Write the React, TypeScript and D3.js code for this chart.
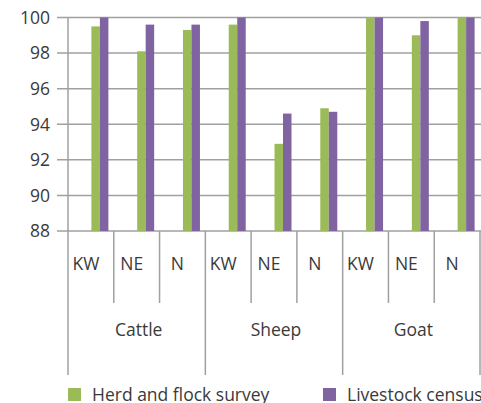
import React from "react";
import * as d3 from "d3";

const groups = ["Cattle", "Sheep", "Goat"];
const regions = ["KW", "NE", "N"];
const seriesNames = ["Herd and flock survey", "Livestock census"];
const herdSurvey = [99.5, 98.1, 99.3, 99.6, 92.9, 94.9, 100, 99.0, 100];
const livestockCensus = [100, 99.6, 99.6, 100, 94.6, 94.7, 100, 99.8, 100];
const yTicks = [88, 90, 92, 94, 96, 98, 100];
const colors = ["#9BBB59", "#8064A2"];

const W = 481;
const H = 403;
const left = 68;
const right = 480;
const top = 17.5;
const bottom = 231;
const font = "'Open Sans', Lato, sans-serif";
const textColor = "#3a3a3a";
const gridColor = "#a0a0a0";
const fs = 17.5;

export default function App() {
  const cats = groups.flatMap((g) => regions.map((r) => `${g}-${r}`));
  const x = d3.scaleBand<string>().domain(cats).range([left, right]).padding(0);
  const y = d3.scaleLinear().domain([88, 100]).range([bottom, top]);
  const bw = x.bandwidth();
  const inner = d3
    .scaleBand<number>()
    .domain([0, 1])
    .range([0, bw])
    .paddingInner(0)
    .paddingOuter((bw - 17) / 2 / (17 / 2));
  const barShift = 9;
  const labelShift = -5;
  const series = [herdSurvey, livestockCensus];

  return (
    <svg
      width={W}
      height={H}
      style={{ position: "absolute", left: 0, top: 0, background: "#fff" }}
      fontFamily={font}
    >
      {yTicks.map((t) => (
        <line
          key={t}
          x1={57}
          x2={W}
          y1={y(t)}
          y2={y(t)}
          stroke={gridColor}
          strokeWidth={1.5}
        />
      ))}
      {yTicks.map((t) => (
        <text
          key={"l" + t}
          x={50}
          y={y(t)}
          dy="0.36em"
          textAnchor="end"
          fontSize={fs}
          fill={textColor}
        >
          {t}
        </text>
      ))}
      {series.map((s, si) =>
        cats.map((c, ci) => (
          <rect
            key={si + "-" + c}
            x={(x(c) as number) + (inner(si) as number) + barShift}
            width={inner.bandwidth()}
            y={y(s[ci])}
            height={bottom - y(s[ci])}
            fill={colors[si]}
          />
        ))
      )}
      <line x1={left} x2={left} y1={top} y2={bottom} stroke={gridColor} strokeWidth={1.5} />
      {cats.map((c, ci) => {
        const xx = x(c) as number;
        const isGroup = ci % 3 === 0;
        return (
          <line
            key={"s" + c}
            x1={xx}
            x2={xx}
            y1={bottom}
            y2={isGroup ? 375 : 303}
            stroke={gridColor}
            strokeWidth={1.5}
          />
        );
      })}
      <line x1={right} x2={right} y1={bottom} y2={375} stroke={gridColor} strokeWidth={1.5} />
      {cats.map((c, ci) => (
        <text
          key={"r" + c}
          x={(x(c) as number) + bw / 2 + labelShift}
          y={264}
          dy="0.36em"
          textAnchor="middle"
          fontSize={fs}
          fill={textColor}
        >
          {regions[ci % 3]}
        </text>
      ))}
      {groups.map((g, gi) => {
        const x0 = x(cats[gi * 3]) as number;
        return (
          <text
            key={g}
            x={x0 + (bw * 3) / 2 + 2}
            y={330}
            dy="0.36em"
            textAnchor="middle"
            fontSize={fs}
            fill={textColor}
          >
            {g}
          </text>
        );
      })}
      {seriesNames.map((n, i) => {
        const lx = i === 0 ? 68 : 323;
        return (
          <g key={n}>
            <rect x={lx} y={388} width={13} height={13} fill={colors[i]} />
            <text x={lx + 24} y={401} fontSize={fs} fill={textColor}>
              {n}
            </text>
          </g>
        );
      })}
    </svg>
  );
}
